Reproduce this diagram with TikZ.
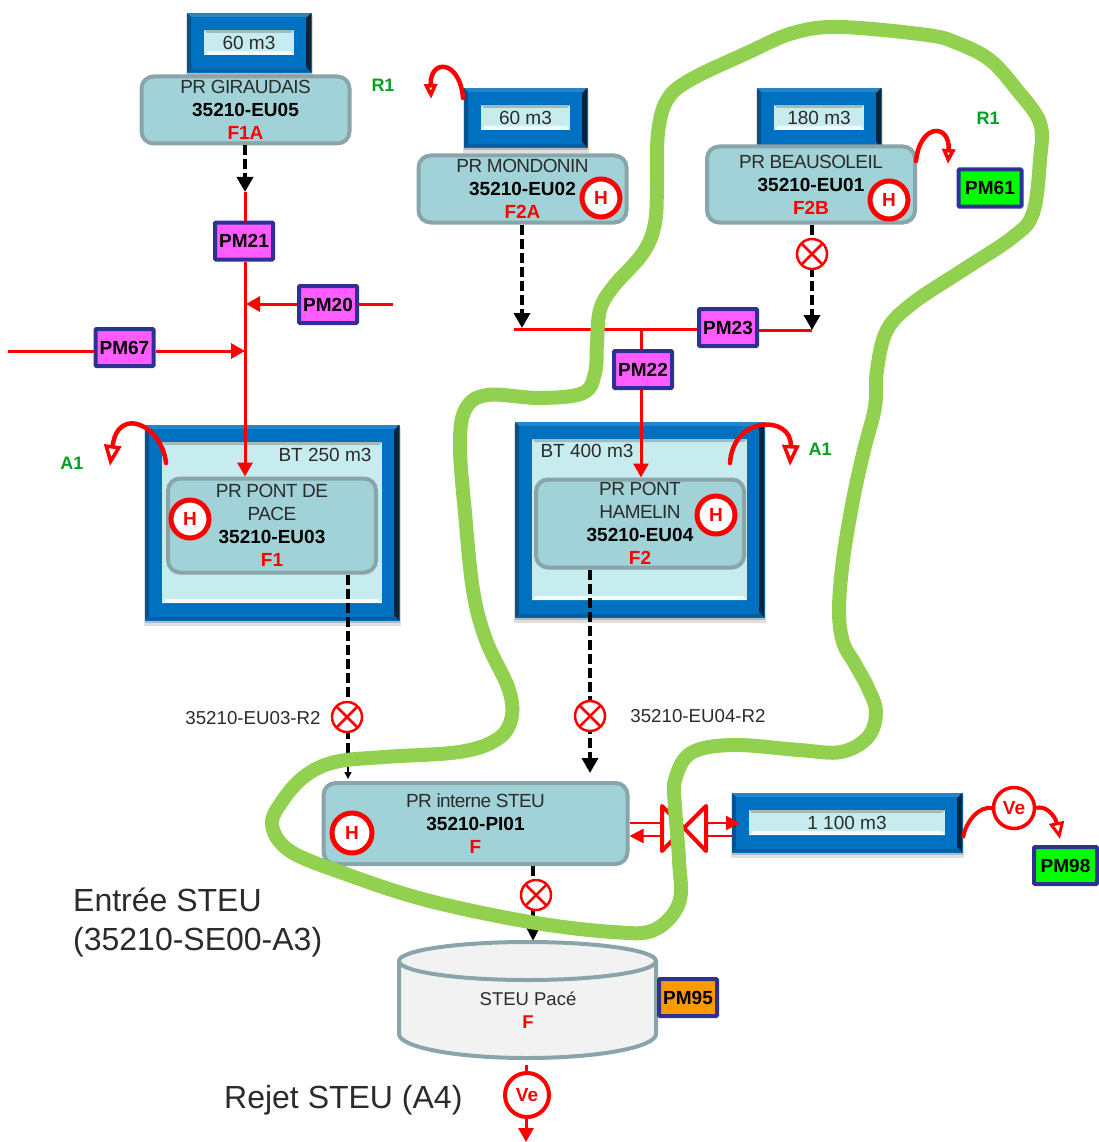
\documentclass[tikz,border=0pt]{standalone}
\usepackage{fontspec}
\setmainfont{Liberation Sans}
\usetikzlibrary{arrows.meta,shapes.geometric}
\definecolor{tankblue}{HTML}{0070C0}
\definecolor{tankdark}{HTML}{03263F}
\definecolor{tanklight}{HTML}{C6ECEF}
\definecolor{prfill}{HTML}{A0D2D7}
\definecolor{prline}{HTML}{8AA5A9}
\definecolor{pmline}{HTML}{2E3192}
\definecolor{pmpink}{HTML}{FF5CFF}
\definecolor{pmgreen}{HTML}{00FF00}
\definecolor{pmorange}{HTML}{FF9900}
\definecolor{zone}{HTML}{92D050}
\definecolor{lab}{HTML}{00A020}
\definecolor{txt}{HTML}{2B2B2B}
\definecolor{steu}{HTML}{F2F2F2}
\newfontfamily\tightfont[LetterSpace=-3]{Liberation Sans}
\tikzset{
  outertank/.style={fill=tankblue,draw=tankblue,line width=.5pt,inner sep=0pt},
  innertank/.style={fill=tanklight,draw=none,inner sep=0pt,font=\fontsize{19}{23}\selectfont,text=txt},
  prbox/.style={fill=prfill,draw=prline,line width=4pt,rounded corners=12pt,align=center,inner sep=0pt,
    font=\tightfont\fontsize{19}{23}\selectfont,text=txt},
  pm/.style={draw=pmline,line width=4pt,rounded corners=1pt,inner sep=0pt,minimum width=58pt,minimum height=37pt,
    font=\bfseries\fontsize{19}{23}\selectfont,text=black},
  hcirc/.style={circle,draw=red,fill=white,line width=5pt,inner sep=0pt,minimum size=38pt,text=red,
    font=\bfseries\fontsize{19}{23}\selectfont},
  xcirc/.style={circle,draw=red,fill=white,line width=2.5pt,inner sep=0pt,minimum size=30pt,
    path picture={\draw[red,line width=2.5pt]
      (path picture bounding box.north west)--(path picture bounding box.south east)
      (path picture bounding box.north east)--(path picture bounding box.south west);}},
  redline/.style={draw=red,line width=3pt},
  redarrow/.style={draw=red,line width=3pt,-{Triangle[length=14pt,width=15pt,fill=red]}},
  dashblack/.style={draw=black,line width=3.5pt,dash pattern=on 10pt off 4pt},
  dasharrow/.style={dashblack,-{Triangle[length=15pt,width=16pt,fill=black,sep=0pt]}},
  recyc/.style={draw=red,line width=4.5pt,line cap=round,
    -{Triangle[open,length=21pt,width=17pt,line width=3.5pt,fill=white]}},
  recycs/.style={draw=red,line width=4.5pt,line cap=round,
    -{Triangle[open,length=15pt,width=13pt,line width=3.5pt,fill=white]}},
  side/.style={text=lab,font=\bfseries\fontsize{18}{22}\selectfont},
  small/.style={text=txt,font=\fontsize{18.7}{22}\selectfont},
  big/.style={text=txt,font=\fontsize{32}{39}\selectfont,align=left},
}
% name, x1, y1, x2, y2, inset, text
\newcommand{\tankbox}[7]{%
  \fill[black,opacity=.12] (#2-1,#3+2) rectangle (#4+2,#5+6);
  \fill[black,opacity=.18] (#2,#3+2) rectangle (#4+1,#5+3);
  \node[outertank,minimum width=#4-#2,minimum height=#5-#3] (#1) at ({(#2+#4)/2},{(#3+#5)/2}) {};
  \fill[tankdark] (#4,#3) -- (#4,#5) -- (#4-5,#5-5) -- (#4-5,#3+5) -- cycle;
  \fill[white,opacity=.15] (#2,#3) -- (#4,#3) -- (#4-4,#3+4) -- (#2+4,#3+4) -- cycle;
  \fill[black,opacity=.25] (#2,#3) -- (#2,#5) -- (#2+4,#5-4) -- (#2+4,#3+4) -- cycle;
  \fill[black,opacity=.15] (#2,#5) -- (#4,#5) -- (#4-3,#5-3) -- (#2+3,#5-3) -- cycle;
  \node[innertank,minimum width=#4-#2-2*#6,minimum height=#5-#3-2*#6] (#1in) at ({(#2+#4)/2},{(#3+#5)/2}) {#7};
  \fill[white,opacity=.8] (#2+#6,#5-#6) -- (#4-#6,#5-#6) -- (#4-#6-4,#5-#6-4) -- (#2+#6+4,#5-#6-4) -- cycle;
  \fill[black,opacity=.2] (#2+#6,#3+#6) -- (#4-#6,#3+#6) -- (#4-#6-3,#3+#6+3) -- (#2+#6+3,#3+#6+3) -- cycle;
}
\newcommand{\codeline}[1]{{\normalfont\bfseries\color{black}#1}}
\newcommand{\fline}[1]{{\normalfont\bfseries\color{red}#1}}
\begin{document}
\begin{tikzpicture}[x=1pt,y=-1pt]
\useasboundingbox (0,0) rectangle (1099,1142);

% tanks
\tankbox{tA}{187}{13}{311}{72}{17}{60 m3}
\tankbox{tB}{464}{88}{587}{147}{17}{60 m3}
\tankbox{tC}{757}{88}{881}{147}{17}{180 m3}
\tankbox{tD}{145}{425}{399}{620}{17}{}
\tankbox{tE}{515}{422}{764}{617}{17}{}
\tankbox{tF}{732}{793}{962}{852}{17}{1 100 m3}
\node[innertank,fill=none] (bt250) at (325,455) {BT 250 m3};
\node[innertank,fill=none] (bt400) at (587,451) {BT 400 m3};

% stations
\node[prbox,minimum width=208pt,minimum height=67pt] (giraud) at (245.5,110) {PR GIRAUDAIS\\\codeline{35210-EU05}\\\fline{F1A}};
\node[prbox,minimum width=208pt,minimum height=67pt] (mond) at (522.5,189) {PR MONDONIN\\\codeline{35210-EU02}\\\fline{F2A}};
\node[prbox,minimum width=208pt,minimum height=76pt] (beau) at (811,184.5) {PR BEAUSOLEIL\\\codeline{35210-EU01}\\\fline{F2B}};
\node[prbox,minimum width=208pt,minimum height=94pt] (pace) at (272,525.5) {PR PONT DE\\PACE\\\codeline{35210-EU03}\\\fline{F1}};
\node[prbox,minimum width=208pt,minimum height=88pt] (hamelin) at (640,523.5) {PR PONT\\HAMELIN\\\codeline{35210-EU04}\\\fline{F2}};
\node[prbox,minimum width=304pt,minimum height=81pt] (interne) at (475.5,823.5) {PR interne STEU\\\codeline{35210-PI01}\\\fline{F}};

% cylinder
\path[fill=steu,draw=prline,line width=4pt,line join=round] (399,961) -- (399,1034) .. controls (399,1047) and (455,1058) .. (527,1058) .. controls (599,1058) and (656,1047) .. (656,1034) -- (656,961) -- cycle;
\node[ellipse,fill=steu,draw=prline,line width=4pt,minimum width=257pt,minimum height=38pt,inner sep=0pt] (steutop) at (527.5,961) {};
\node[inner sep=0pt,align=center,text=txt,font=\fontsize{18.5}{23}\selectfont] (steu) at (528,1010) {STEU Pacé\\\textcolor{red}{\bfseries F}};

% PM nodes
\node[pm,fill=pmpink] (pm21) at (244,241) {PM21};
\node[pm,fill=pmpink] (pm20) at (328,304.5) {PM20};
\node[pm,fill=pmpink] (pm67) at (124.5,347.5) {PM67};
\node[pm,fill=pmpink] (pm23) at (728,327.5) {PM23};
\node[pm,fill=pmpink] (pm22) at (643,369.5) {PM22};
\node[pm,fill=pmgreen,minimum width=63pt] (pm61) at (990,188) {PM61};
\node[pm,fill=pmgreen,minimum width=63pt] (pm98) at (1065.5,865.5) {PM98};
\node[pm,fill=pmorange] (pm95) at (688,997.5) {PM95};

% coordinates of free ends
\coordinate (bus1) at (514,329);
\coordinate (bus2) at (812,330);
\coordinate (busj) at (641,330);
\coordinate (p67l) at (8,351);
\coordinate (p67r) at (245,351);
\coordinate (p20r) at (393,304);
\coordinate (p20l) at (246,304);
\coordinate (girj) at (245,192);
\coordinate (hamj) at (590,773);
\coordinate (pacej) at (348,762);
\coordinate (pacee) at (348,779);
\coordinate (intj) at (533,941);
\coordinate (mondj) at (522,328);

% red lines
\draw[redline] (girj) -- (pm21.north -| girj);
\draw[redarrow] (pm21.south -| girj) -- (pace.north -| girj);
\draw[redarrow] (pm20.west |- p20l) -- (p20l);
\draw[redline] (p20r) -- (pm20.east |- p20r);
\draw[redline] (p67l) -- (pm67.west |- p67l);
\draw[redarrow] (pm67.east |- p67r) -- (p67r);
\draw[redline] (bus1) -- (pm23.west |- bus1);
\draw[redline] (pm23.east |- bus2) -- (bus2);
\draw[redline] (busj) -- (pm22.north -| busj);
\draw[redarrow] (pm22.south -| busj) -- (hamelin.north -| busj);

% dashed links
\draw[dasharrow] (giraud.south -| girj) -- (girj);
\draw[dasharrow] (mond.south -| mondj) -- (mondj);
\draw[dasharrow] (beau.south -| bus2) -- (bus2);
\draw[dashblack] (pace.south -| pacej) -- (pacej);
\draw[black,line width=1.5pt,-{Triangle[length=7pt,width=7pt,fill=black]}] (pacej) -- (pacee);
\draw[dasharrow] (hamelin.south -| hamj) -- (hamj);
\draw[dashblack,-{Triangle[length=14pt,width=13pt,fill=black,sep=0pt]}] (interne.south -| intj) -- (intj);

% valves
\node[xcirc] (x1) at (812,254) {};
\node[xcirc] (x2) at (347,717) {};
\node[xcirc] (x3) at (590,716) {};
\node[xcirc] (x4) at (536,895) {};
\node[small] (r2a) at (253,718) {35210-EU03-R2};
\node[small] (r2b) at (698,716) {35210-EU04-R2};

% bypass valve to the 1 100 m3 tank
\coordinate (vtip) at (684,828);
\coordinate (vla) at (662,806);
\coordinate (vlb) at (662,851);
\coordinate (vra) at (706,806);
\coordinate (vrb) at (706,851);
\coordinate (vtop) at (0,823);
\coordinate (vbot) at (0,836);
\draw[red,line width=4pt,line join=round,fill=white] (vla) -- (vlb) -- (vtip) -- cycle;
\draw[red,line width=4pt,line join=round,fill=white] (vra) -- (vrb) -- (vtip) -- cycle;
\draw[red,line width=2.5pt] (interne.east |- vtop) -- (vla |- vtop);
\draw[red,line width=2.5pt,-{Triangle[length=14pt,width=14pt,fill=red]}] (vla |- vbot) -- (interne.east |- vbot);
\draw[red,line width=2.5pt,-{Triangle[length=14pt,width=14pt,fill=red]}] (vra |- vtop) -- (740,823);
\draw[red,line width=2.5pt] (vra |- vbot) -- (tF.west |- vbot);

% H badges
\node[hcirc] (h1) at (601,198) {H};
\node[hcirc] (h2) at (889,200) {H};
\node[hcirc] (h3) at (190,519) {H};
\node[hcirc] (h4) at (716,515) {H};
\node[hcirc,minimum size=40pt] (h5) at (352,833) {H};

% recirculation arrows
\coordinate (ra1) at (166,463); \coordinate (ra2) at (110,466);
\draw[recyc] (ra1) .. controls (162,425) and (118,405) .. (ra2);
\coordinate (rb1) at (463,98); \coordinate (rb2) at (431,99);
\draw[recycs] (rb1) .. controls (460,60) and (430,58) .. (rb2);
\coordinate (rc1) at (916,161); \coordinate (rc2) at (948,164);
\draw[recycs] (rc1) .. controls (920,123) and (950,123) .. (rc2);
\coordinate (rd1) at (730,463); \coordinate (rd2) at (790,466);
\draw[recyc] (rd1) .. controls (733,415) and (792,415) .. (rd2);

% Ve at the 1 100 m3 tank
\node[hcirc,line width=3.5pt,minimum size=41pt] (ve1) at (1014,808) {Ve};
\coordinate (vea) at (963,838); \coordinate (veb) at (1060,839);
\draw[red,line width=4pt] (vea) .. controls (966,820) and (980,806) .. (ve1.west);
\draw[red,line width=4pt,-{Triangle[open,length=17pt,width=15pt,line width=3pt,fill=white]}] (ve1.east) .. controls (1045,805) and (1055,815) .. (veb);

% Ve at the outfall
\node[hcirc,line width=4pt,minimum size=44pt] (ve2) at (527,1095) {Ve};
\coordinate (outt) at (526,1065);
\coordinate (outb) at (526,1142);
\draw[redline] (outt) -- (ve2.north -| outt);
\draw[redarrow] (ve2.south -| outb) -- (outb);

% green zone
\draw[zone,line width=14pt,line join=round] plot[smooth cycle,tension=.6] coordinates {
 (840,27) (927,35) (957,43) (990,60) (1017,90) (1040,123) (1040,160) (1033,213) (1013,237)
 (963,270) (913,303) (887,330) (877,370) (875,407) (864,450) (853,500) (843,560) (839,610) (843,642) (855,664) (868,688) (876,712)
 (868,737) (841,752) (799,750) (733,745) (691,753) (675,780) (675,807) (679,860) (679,903) (654,930)
 (613,932) (530,922) (426,900) (343,873) (290,851) (272,825) (283,800) (305,776) (335,762) (384,757) (459,752)
 (496,740) (511,720) (509,690) (486,640) (473,590) (465,513) (460,447) (465,410) (487,395) (540,398)
 (583,393) (595,373) (597,343) (600,310) (613,287) (643,253) (655,223) (657,180) (658,133) (667,100)
 (690,80) (747,53) (793,33)
};

% labels
\node[side] (lr1a) at (383,85) {R1};
\node[side] (lr1b) at (988,118) {R1};
\node[side] (la1a) at (72,463) {A1};
\node[side] (la1b) at (820,449) {A1};
\node[big,anchor=north west,inner sep=0pt] (entree) at (73,888) {Entrée STEU\\(35210-SE00-A3)};
\node[big,anchor=west,inner sep=0pt] (rejet) at (224,1100) {Rejet STEU (A4)};
\end{tikzpicture}
\end{document}
